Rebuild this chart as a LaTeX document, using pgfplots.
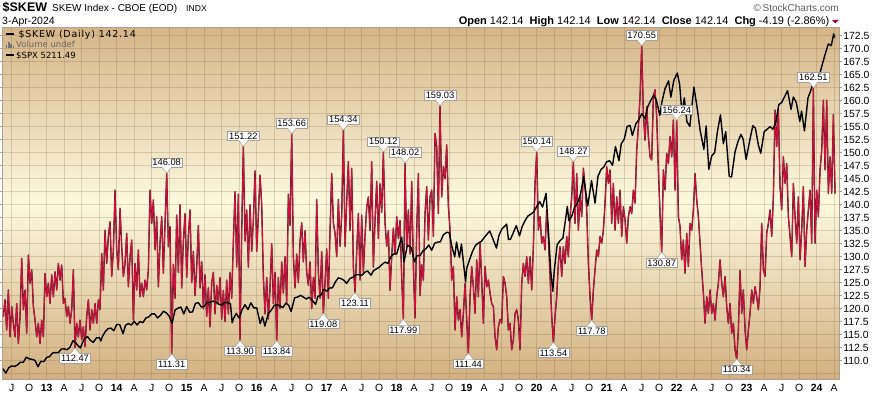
\documentclass[border=0pt]{standalone}
\usepackage{fontspec}
\setmainfont{Liberation Sans}
\newfontfamily\legA[LetterSpace=8]{DejaVu Sans}
\newfontfamily\legB{DejaVu Sans}
\usepackage{pgfplots}
\pgfplotsset{compat=1.18}
\usepackage{pgfplotstable}

\definecolor{skewred}{RGB}{212,14,58}
\definecolor{framec}{RGB}{176,158,142}
\definecolor{bgtop}{RGB}{214,181,136}
\definecolor{bgmid}{RGB}{252,249,222}
\definecolor{bgbot}{RGB}{211,176,129}
\definecolor{gridc}{RGB}{120,90,50}
\definecolor{lblborder}{RGB}{165,160,155}
\definecolor{chgred}{RGB}{160,0,48}

% SKEW, sampled at equal steps of 2/7 month (x = months since Jan 2012)
\pgfplotstableread[row sep=\\]{v\\ 118.5\\ 121.7\\ 115.9\\ 123.6\\ 114.6\\ 120.4\\ 117.2\\ 114.6\\ 121.0\\ 113.3\\ 118.5\\ 129.7\\ 119.8\\ 123.6\\ 115.3\\ 130.3\\ 124.9\\ 127.5\\ 120.4\\ 117.8\\ 114.6\\ 117.2\\ 113.3\\ 117.8\\ 114.6\\ 126.8\\ 122.3\\ 124.9\\ 121.0\\ 126.5\\ 122.3\\ 127.1\\ 123.6\\ 128.7\\ 125.5\\ 128.4\\ 121.0\\ 122.0\\ 118.5\\ 120.4\\ 117.2\\ 119.8\\ 127.5\\ 112.47\\ 117.2\\ 114.6\\ 117.8\\ 114.0\\ 116.5\\ 112.7\\ 118.5\\ 121.7\\ 115.9\\ 119.8\\ 117.2\\ 121.0\\ 117.2\\ 121.7\\ 119.8\\ 130.6\\ 123.6\\ 135.1\\ 128.7\\ 133.9\\ 136.7\\ 126.2\\ 131.3\\ 142.8\\ 131.3\\ 127.5\\ 139.3\\ 131.9\\ 126.2\\ 128.7\\ 134.5\\ 124.2\\ 130.0\\ 133.2\\ 117.8\\ 128.7\\ 123.6\\ 131.3\\ 122.3\\ 124.9\\ 122.3\\ 125.5\\ 123.6\\ 127.5\\ 142.8\\ 136.4\\ 140.9\\ 131.3\\ 137.7\\ 124.2\\ 132.6\\ 137.7\\ 126.8\\ 136.4\\ 146.08\\ 131.9\\ 135.8\\}\skewA
\pgfplotstableread[row sep=\\]{v\\ 135.8\\ 111.31\\ 128.5\\ 122.0\\ 138.0\\ 127.0\\ 140.0\\ 124.0\\ 133.0\\ 138.3\\ 126.0\\ 134.0\\ 139.0\\ 125.0\\ 131.0\\ 122.5\\ 128.0\\ 136.0\\ 124.0\\ 129.0\\ 120.0\\ 126.5\\ 118.5\\ 124.0\\ 116.5\\ 125.0\\ 127.0\\ 119.0\\ 124.5\\ 121.0\\ 126.0\\ 118.0\\ 123.5\\ 117.5\\ 125.5\\ 119.0\\ 127.0\\ 122.0\\ 133.0\\ 142.5\\ 128.0\\ 142.0\\ 113.90\\ 135.0\\ 151.22\\ 133.0\\ 139.0\\ 128.0\\ 140.0\\ 131.0\\ 137.0\\ 146.5\\ 131.0\\ 138.0\\ 145.7\\ 140.0\\ 126.0\\ 119.0\\ 126.0\\ 118.0\\ 124.0\\ 132.5\\ 121.0\\ 127.0\\ 113.84\\ 126.0\\ 120.0\\ 129.0\\ 123.0\\ 130.0\\ 121.0\\ 142.0\\ 136.0\\ 153.66\\ 130.0\\ 124.0\\ 130.5\\ 125.0\\ 133.0\\ 136.5\\ 129.0\\ 135.0\\ 127.0\\ 124.5\\ 129.0\\ 120.0\\ 126.0\\ 122.0\\ 141.0\\ 127.0\\ 122.0\\ 131.0\\ 119.08\\ 125.0\\ 131.5\\ 122.0\\ 135.0\\ 146.0\\ 136.5\\ 134.5\\}\skewB
\pgfplotstableread[row sep=\\]{v\\ 134.5\\ 130.0\\ 141.0\\ 132.0\\ 138.0\\ 154.34\\ 132.0\\ 140.5\\ 148.3\\ 135.0\\ 147.0\\ 128.0\\ 123.11\\ 131.0\\ 138.3\\ 125.5\\ 138.0\\ 127.0\\ 134.0\\ 139.5\\ 141.5\\ 135.0\\ 148.3\\ 128.0\\ 137.0\\ 144.5\\ 133.5\\ 144.0\\ 138.5\\ 150.12\\ 136.5\\ 132.0\\ 135.0\\ 123.5\\ 130.0\\ 135.5\\ 130.5\\ 137.7\\ 133.5\\ 137.0\\ 126.0\\ 117.99\\ 148.02\\ 132.0\\ 139.0\\ 130.5\\ 144.5\\ 128.0\\ 118.2\\ 135.0\\ 146.0\\ 122.5\\ 128.5\\ 125.5\\ 138.3\\ 143.5\\ 133.2\\ 141.5\\ 142.8\\ 133.9\\ 153.7\\ 151.2\\ 138.3\\ 159.03\\ 141.5\\ 147.3\\ 145.0\\ 151.5\\ 139.7\\ 135.2\\ 125.5\\ 128.1\\ 115.9\\ 122.3\\ 117.8\\ 119.8\\ 114.6\\ 119.1\\ 124.9\\ 118.0\\ 111.44\\ 122.3\\ 128.1\\ 124.2\\ 119.1\\ 129.4\\ 122.3\\ 132.6\\ 125.5\\ 117.2\\ 128.1\\ 124.2\\ 125.5\\ 123.0\\ 121.0\\ 120.4\\ 114.6\\ 112.1\\ 116.5\\ 118.0\\}\skewC
\pgfplotstableread[row sep=\\]{v\\ 118.0\\ 117.2\\ 126.2\\ 124.9\\ 122.3\\ 115.9\\ 117.2\\ 112.1\\ 114.0\\ 119.1\\ 119.8\\ 117.8\\ 112.1\\ 124.9\\ 128.7\\ 126.2\\ 130.0\\ 124.9\\ 130.0\\ 123.6\\ 131.9\\ 144.1\\ 150.14\\ 135.1\\ 137.7\\ 132.6\\ 133.9\\ 131.3\\ 139.0\\ 133.9\\ 126.2\\ 118.5\\ 113.54\\ 118.5\\ 122.3\\ 128.7\\ 131.9\\ 126.2\\ 131.9\\ 128.7\\ 133.9\\ 130.0\\ 137.7\\ 141.5\\ 148.27\\ 136.4\\ 146.0\\ 135.1\\ 141.5\\ 137.7\\ 147.0\\ 143.5\\ 139.0\\ 128.7\\ 122.3\\ 117.78\\ 123.6\\ 127.5\\ 131.3\\ 130.0\\ 133.9\\ 132.6\\ 135.1\\ 140.3\\ 147.3\\ 144.1\\ 146.7\\ 136.4\\ 144.1\\ 135.1\\ 141.5\\ 136.4\\ 142.8\\ 133.9\\ 139.6\\ 137.1\\ 132.6\\ 137.7\\ 139.6\\ 138.3\\ 142.8\\ 140.3\\ 150.5\\ 155.0\\ 160.8\\ 170.55\\ 157.6\\ 152.4\\ 158.9\\ 153.1\\ 149.2\\ 148.6\\ 160.8\\ 162.1\\ 156.9\\ 146.7\\ 138.3\\ 130.87\\ 146.7\\ 142.8\\}\skewD
\pgfplotstableread[row sep=\\]{v\\ 142.8\\ 149.9\\ 147.9\\ 153.1\\ 149.2\\ 156.3\\ 142.8\\ 156.24\\ 137.7\\ 135.8\\ 129.4\\ 133.2\\ 126.8\\ 134.5\\ 128.1\\ 136.4\\ 135.1\\ 139.0\\ 146.0\\ 140.9\\ 137.7\\ 132.6\\ 127.5\\ 123.0\\ 117.2\\ 122.3\\ 119.1\\ 123.6\\ 119.1\\ 121.0\\ 117.8\\ 122.3\\ 124.9\\ 129.4\\ 124.9\\ 122.3\\ 126.2\\ 120.4\\ 117.2\\ 121.0\\ 115.3\\ 117.2\\ 112.1\\ 110.34\\ 115.9\\ 127.4\\ 119.1\\ 123.6\\ 115.9\\ 112.1\\ 115.9\\ 119.1\\ 123.6\\ 121.0\\ 124.2\\ 122.3\\ 119.8\\ 124.2\\ 136.4\\ 127.5\\ 126.2\\ 134.5\\ 136.4\\ 139.0\\ 133.9\\ 141.5\\ 158.2\\ 151.2\\ 158.2\\ 143.5\\ 139.0\\ 149.2\\ 144.1\\ 147.9\\ 137.7\\ 133.9\\ 130.0\\ 144.1\\ 137.7\\ 132.6\\ 141.5\\ 129.4\\ 135.1\\ 143.5\\ 128.1\\ 135.1\\ 139.0\\ 142.8\\ 132.6\\ 162.51\\ 132.6\\ 142.8\\ 137.7\\ 146.7\\ 150.5\\ 160.1\\ 146.7\\ 160.1\\ 142.2\\ 149.2\\ 142.2\\ 157.3\\ 142.14\\}\skewE

% S&P 500 overlay (x = months since Jan 2012)
\pgfplotstableread{
m v
4.5 1330
5.0 1278
5.5 1342
6.0 1362
6.5 1356
7.0 1375
7.5 1405
8.0 1406
8.5 1465
9.0 1444
9.5 1440
10.0 1427
10.5 1353
11.0 1416
11.5 1413
12.0 1462
12.5 1472
13.0 1513
13.5 1519
14.0 1518
14.5 1560
15.0 1562
15.5 1552
16.0 1582
16.5 1658
17.0 1631
17.5 1590
17.8 1573
18.0 1614
18.5 1682
19.0 1706
19.5 1661
20.0 1639
20.5 1690
21.0 1695
21.3 1655
21.5 1700
22.0 1762
22.5 1798
23.0 1806
23.5 1775
24.0 1848
24.5 1848
25.1 1741
25.5 1838
26.0 1859
26.5 1841
27.0 1885
27.5 1842
28.0 1883
28.5 1870
29.0 1924
29.5 1937
30.0 1973
30.5 1973
31.0 1925
31.5 1955
32.0 2003
32.5 1985
33.0 1946
33.5 1862
34.0 2018
34.5 2039
35.0 2053
35.5 1972
36.0 2058
36.5 1992
37.0 1995
37.5 2096
38.0 2104
38.5 2053
39.0 2060
39.5 2106
40.0 2108
40.5 2122
41.0 2111
41.5 2085
42.0 2077
42.5 2108
43.0 2104
43.5 2092
43.8 1868
44.0 1914
44.5 1978
45.0 1923
45.5 2023
46.0 2079
46.5 2023
47.0 2102
47.5 2043
48.0 2044
48.6 1859
49.0 1940
49.4 1829
50.0 1978
50.5 2016
51.0 2072
51.5 2081
52.0 2065
52.5 2047
53.0 2099
53.5 2071
53.9 2000
54.5 2161
55.0 2170
55.5 2190
56.0 2170
56.5 2147
57.0 2168
57.5 2133
58.1 2085
58.5 2180
59.0 2191
59.5 2262
60.0 2239
60.5 2275
61.0 2279
61.5 2349
62.0 2395
62.5 2385
63.0 2363
63.4 2329
64.0 2388
64.5 2402
65.0 2430
65.5 2433
66.0 2423
66.5 2459
67.0 2476
67.6 2425
68.0 2476
68.5 2500
69.0 2519
69.5 2553
70.0 2579
70.5 2564
71.0 2642
71.5 2675
72.0 2674
72.85 2873
73.25 2581
73.85 2780
74.5 2747
75.05 2582
75.5 2656
76.0 2655
76.5 2711
77.0 2735
77.5 2780
78.0 2718
78.5 2800
79.0 2813
79.5 2818
80.0 2901
80.65 2930
81.0 2924
81.5 2750
81.95 2641
82.25 2813
82.75 2633
83.1 2790
83.8 2351
84.0 2507
84.5 2610
85.0 2706
85.5 2775
86.0 2803
86.5 2822
87.0 2867
87.95 2945
88.5 2850
89.1 2744
89.5 2886
90.0 2964
90.85 3025
91.15 2844
91.5 2847
92.0 2926
92.5 3007
93.05 2887
93.5 2995
94.0 3066
94.5 3120
95.0 3141
95.5 3168
96.0 3231
96.5 3289
97.0 3225
97.6 3386
98.0 2954
98.4 2480
98.75 2237
99.0 2470
99.5 2783
100.0 2831
100.5 2863
101.25 3232
101.5 3066
102.0 3115
102.5 3226
103.0 3271
103.5 3373
104.05 3580
104.75 3237
105.4 3534
106.0 3270
106.5 3585
107.0 3662
107.5 3694
108.0 3756
108.5 3768
109.0 3714
109.5 3934
110.1 3768
110.5 3969
111.0 4020
111.5 4170
112.0 4181
112.4 4063
113.0 4202
113.5 4246
114.0 4320
114.6 4258
115.0 4395
115.5 4468
116.05 4537
116.5 4480
117.1 4300
117.5 4471
118.0 4613
118.6 4704
119.0 4513
119.5 4709
120.1 4796
120.5 4662
120.9 4326
121.3 4504
121.75 4225
122.25 4170
122.95 4631
123.5 4392
124.0 4132
124.65 3901
125.05 4176
125.5 3667
126.0 3825
126.5 3863
127.0 4118
127.5 4305
128.0 3966
128.4 4110
129.0 3586
129.4 3577
130.0 3872
130.5 3991
131.0 4076
131.4 4019
131.9 3783
132.5 3999
133.05 4179
133.5 4147
134.0 3951
134.4 3855
135.0 4109
135.5 4137
136.0 4167
136.5 4136
137.0 4221
137.5 4425
138.0 4450
139.0 4589
139.6 4370
140.0 4515
140.5 4450
141.1 4229
141.4 4349
141.9 4117
142.5 4502
143.0 4594
143.5 4719
144.05 4743
144.5 4783
145.0 4906
145.5 5029
146.0 5137
146.5 5117
146.9 5254
147.1 5211
}\spx

\tikzset{
  lbl/.style={draw=lblborder, fill=white, line width=0.5pt, inner xsep=1.6pt, inner ysep=1.3pt,
    font=\fontsize{9.3}{10}\selectfont, text height=6.8pt, text depth=0pt},
  skewunder/.style={black!85, line width=1.35pt, line join=round},
  skewover/.style={skewred, line width=1.0pt, line join=round},
}
\newcommand{\peak}[3]{%
  \node[lbl, anchor=south] at ([yshift=5.6pt]axis cs:#1,#2) {#3};
  \fill[white] ([xshift=-4.6pt,yshift=6.3pt]axis cs:#1,#2) -- (axis cs:#1,#2) -- ([xshift=4.6pt,yshift=6.3pt]axis cs:#1,#2) -- cycle;
  \draw[lblborder, line width=0.5pt] ([xshift=-4.6pt,yshift=5.6pt]axis cs:#1,#2) -- (axis cs:#1,#2) -- ([xshift=4.6pt,yshift=5.6pt]axis cs:#1,#2);
}
\newcommand{\trough}[3]{%
  \node[lbl, anchor=north] at ([yshift=-5.6pt]axis cs:#1,#2) {#3};
  \fill[white] ([xshift=-4.6pt,yshift=-6.3pt]axis cs:#1,#2) -- (axis cs:#1,#2) -- ([xshift=4.6pt,yshift=-6.3pt]axis cs:#1,#2) -- cycle;
  \draw[lblborder, line width=0.5pt] ([xshift=-4.6pt,yshift=-5.6pt]axis cs:#1,#2) -- (axis cs:#1,#2) -- ([xshift=4.6pt,yshift=-5.6pt]axis cs:#1,#2);
}

\begin{document}
\begin{tikzpicture}[x=1pt,y=1pt]
\useasboundingbox (0,0) rectangle (873,394);

% main SKEW axis
\begin{axis}[
  at={(2.7pt,15pt)}, anchor=south west, scale only axis,
  width=836.7pt, height=351.7pt,
  xmin=4.457, xmax=147.89, ymin=106.48, ymax=174.115,
  axis background/.style={top color=bgtop, bottom color=bgbot, middle color=bgmid},
  axis line style={draw=framec, line width=0.8pt},
  xtick={6,9,...,147},
  xticklabels={J,O,\textbf{13},A,J,O,\textbf{14},A,J,O,\textbf{15},A,J,O,\textbf{16},A,J,O,\textbf{17},A,J,O,\textbf{18},A,J,O,\textbf{19},A,J,O,\textbf{20},A,J,O,\textbf{21},A,J,O,\textbf{22},A,J,O,\textbf{23},A,J,O,\textbf{24},A},
  xtick style={draw=none},
  ytick={110,112.5,...,172.5},
  extra y ticks={107.5}, extra y tick labels={},
  extra y tick style={ytick style={draw=none}},
  yticklabel pos=right,
  tick align=outside, major tick length=3pt,
  ytick style={draw=framec, line width=0.6pt},
  /pgf/number format/assume math mode=true,
  y tick label style={/pgf/number format/.cd, fixed, fixed zerofill, precision=1, /tikz/.cd,
     font=\fontsize{10.4}{12}\selectfont, inner sep=0pt, xshift=0.8pt},
  x tick label style={font=\fontsize{10.4}{12}\selectfont, inner sep=0pt, anchor=north, yshift=-2.5pt},
  grid=major, major grid style={draw=gridc, opacity=0.22, line width=0.6pt},
]
\addplot[skewunder] table[x expr={4.5714+\coordindex*0.285714}, y=v] {\skewA};
\addplot[skewover] table[x expr={4.5714+\coordindex*0.285714}, y=v] {\skewA};
\addplot[skewunder] table[x expr={33.1429+\coordindex*0.285714}, y=v] {\skewB};
\addplot[skewover] table[x expr={33.1429+\coordindex*0.285714}, y=v] {\skewB};
\addplot[skewunder] table[x expr={61.4286+\coordindex*0.285714}, y=v] {\skewC};
\addplot[skewover] table[x expr={61.4286+\coordindex*0.285714}, y=v] {\skewC};
\addplot[skewunder] table[x expr={89.7143+\coordindex*0.285714}, y=v] {\skewD};
\addplot[skewover] table[x expr={89.7143+\coordindex*0.285714}, y=v] {\skewD};
\addplot[skewunder] table[x expr={118.0+\coordindex*0.285714}, y=v] {\skewE};
\addplot[skewover] table[x expr={118.0+\coordindex*0.285714}, y=v] {\skewE};
\end{axis}

% S&P 500 overlay
\begin{axis}[
  at={(2.7pt,15pt)}, anchor=south west, scale only axis,
  width=836.7pt, height=351.7pt,
  xmin=4.457, xmax=147.89, ymin=1209, ymax=5332, hide axis,
]
\addplot[black, line width=1.4pt, line join=round] table[x=m, y=v] {\spx};
\end{axis}

% annotations
\begin{axis}[
  at={(2.7pt,15pt)}, anchor=south west, scale only axis,
  width=836.7pt, height=351.7pt,
  xmin=4.457, xmax=147.89, ymin=106.48, ymax=174.115, hide axis, clip=false,
]
\trough{16.857}{112.47}{112.47}
\peak{32.571}{146.08}{146.08}
\trough{33.429}{111.31}{111.31}
\trough{45.143}{113.90}{113.90}
\peak{45.714}{151.22}{151.22}
\trough{51.429}{113.84}{113.84}
\peak{54.0}{153.66}{153.66}
\trough{59.429}{119.08}{119.08}
\peak{62.857}{154.34}{154.34}
\trough{64.857}{123.11}{123.11}
\peak{69.714}{150.12}{150.12}
\trough{73.143}{117.99}{117.99}
\peak{73.429}{148.02}{148.02}
\peak{79.429}{159.03}{159.03}
\trough{84.286}{111.44}{111.44}
\peak{96.0}{150.14}{150.14}
\trough{98.857}{113.54}{113.54}
\peak{102.286}{148.27}{148.27}
\trough{105.429}{117.78}{117.78}
\peak{114.0}{170.55}{170.55}
\trough{117.429}{130.87}{130.87}
\peak{120.0}{156.24}{156.24}
\trough{130.286}{110.34}{110.34}
\peak{143.429}{162.51}{162.51}
\end{axis}

% header
\node[anchor=base west, inner sep=0] at (2.5,382.7) {\fontsize{12.5}{14}\selectfont\bfseries \$SKEW};
\node[anchor=base west, inner sep=0] at (52,382.5) {\fontsize{10}{12}\selectfont SKEW Index - CBOE (EOD)};
\node[anchor=base west, inner sep=0] at (186,382.5) {\fontsize{8.6}{10}\selectfont INDX};
\node[anchor=base west, inner sep=0] at (2,369) {\fontsize{10.5}{12}\selectfont 3-Apr-2024};
\node[anchor=base east, inner sep=0, text=black!65] at (839,382) {\fontsize{10}{12}\selectfont \textcopyright\,StockCharts.com};
\node[anchor=base east, inner sep=0] at (829.5,369) {\fontsize{11}{13}\selectfont \textbf{Open} 142.14 \ \textbf{High} 142.14 \ \textbf{Low} 142.14 \ \textbf{Close} 142.14 \ \textbf{Chg} -4.19 (-2.86\%)};
\fill[chgred] (832,374) -- (838.7,374) -- (835.35,370.6) -- cycle;

% legend
\draw[black, line width=2pt] (6,359.5) -- (14,359.5);
\node[anchor=base west, inner sep=0] at (18.3,356.7) {\legA\fontsize{9.5}{11}\selectfont \$SKEW (Daily) 142.14};
\fill[black!55] (6,346) rectangle (7.4,348.5);
\fill[black!55] (8.2,346) rectangle (9.6,351.5);
\fill[black!55] (10.4,346) rectangle (11.8,350);
\fill[black!55] (12.6,346) rectangle (14,347.8);
\node[anchor=base west, inner sep=0, text=black!60] at (16,346) {\legB\fontsize{8.5}{10}\selectfont Volume undef};
\draw[black, line width=2pt] (6,339) -- (14,339);
\node[anchor=base west, inner sep=0] at (16,335.7) {\legB\fontsize{8.5}{10}\selectfont \$SPX 5211.49};
\end{tikzpicture}
\end{document}
